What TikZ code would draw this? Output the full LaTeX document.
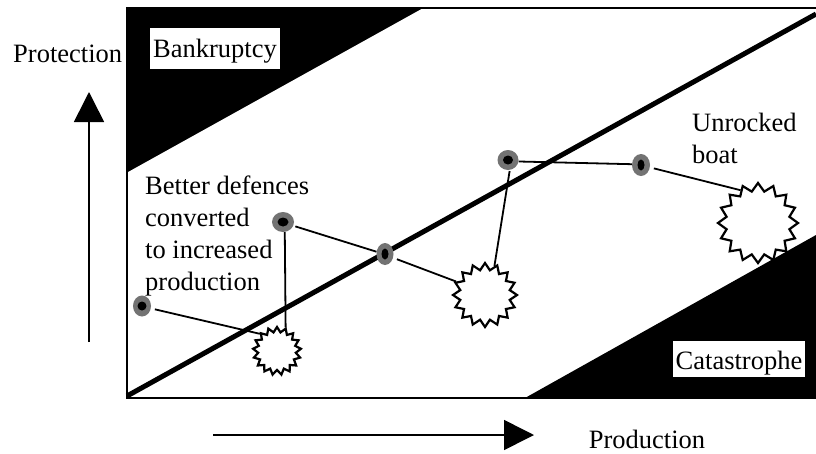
\documentclass[tikz,border=0pt]{standalone}
\usepackage{fontspec}
\setmainfont{Liberation Serif}
\usetikzlibrary{shapes.geometric,arrows.meta}
\tikzset{
 lbl/.style={inner sep=0pt,font=\fontsize{26.5}{32}\selectfont},
 whitebox/.style={lbl,fill=white,inner xsep=3pt,inner ysep=0pt},
 dotnode/.style n args={4}{ellipse,fill=black!55,inner sep=0pt,minimum width=#1pt,minimum height=#2pt,
   path picture={\fill[black] (path picture bounding box.center) ellipse (#3pt and #4pt);}},
 boom/.style n args={3}{star,star points=#1,star point ratio=#3,draw=black,line width=2.2pt,fill=white,inner sep=0pt,minimum size=#2pt,miter limit=10},
 conn/.style={line width=1.8pt},
 bigarrow/.style={line width=1.6pt,-{Triangle[length=30pt,width=30pt]}}
}
\begin{document}
\begin{tikzpicture}[x=1pt,y=-1pt]
\useasboundingbox (0,0) rectangle (816,453);
\fill[white] (0,0) rectangle (816,453);
\draw[line width=1.6pt] (816,8) -- (127,8) -- (127,398) -- (816,398);
\fill (126,8) -- (423,8) -- (126,173) -- cycle;
\fill (525,398) -- (816,235) -- (816,398) -- cycle;
\coordinate (dl) at (127,396);
\coordinate (dr) at (816,14);
\draw[line width=5pt] (dl) -- (dr);

\node[dotnode={18}{21}{4.5}{4.5}] (d1) at (142,306) {};
\node[dotnode={22}{20}{5.5}{4.5}] (d2) at (283,222) {};
\node[dotnode={17}{22}{3.5}{5.5}] (d3) at (385,254) {};
\node[dotnode={21}{20}{5}{4.5}] (d4) at (508,160) {};
\node[dotnode={18}{22}{3.5}{5.5}] (d5) at (641,165) {};

\node[boom={17}{48}{1.27}] (s1) at (277,351) {};
\node[boom={16}{64}{1.27}] (s2) at (485,295) {};
\node[boom={16}{80}{1.25}] (s3) at (758,223) {};

\draw[conn,shorten <=4pt] (d1.-15) -- (s1.135);
\draw[conn] (d2.-80) -- (s1.70);
\draw[conn,shorten <=2pt] (d2.-20) -- (d3.165);
\draw[conn,shorten <=4pt] (d3.-25) -- (s2.155);
\draw[conn,shorten <=1pt] (d4.-80) -- (s2.72);
\draw[conn] (d4.-8) -- (d5.175);
\draw[conn,shorten <=4pt] (d5.-15) -- (s3.118);

\coordinate (vs) at (89,342);
\coordinate (ve) at (89,92);
\coordinate (hs) at (213,435);
\coordinate (he) at (534,435);
\draw[bigarrow] (vs) -- (ve);
\draw[bigarrow] (hs) -- (he);

\node[lbl,anchor=base west] (prot) at (13,62) {Protection};
\node[whitebox,anchor=base,text height=29pt,text depth=12pt] (bank) at (215,57) {Bankruptcy};
\node[whitebox,anchor=base,text height=28pt,text depth=8pt] (cat) at (739,369) {Catastrophe};
\node[lbl,anchor=base] (prod) at (647,448) {Production};
\node[lbl,anchor=base west,align=left] (unr) at (692,163) {Unrocked\\boat};
\node[lbl,anchor=base west,align=left] (bet) at (145,290) {Better defences\\converted\\to increased\\production};
\end{tikzpicture}
\end{document}
